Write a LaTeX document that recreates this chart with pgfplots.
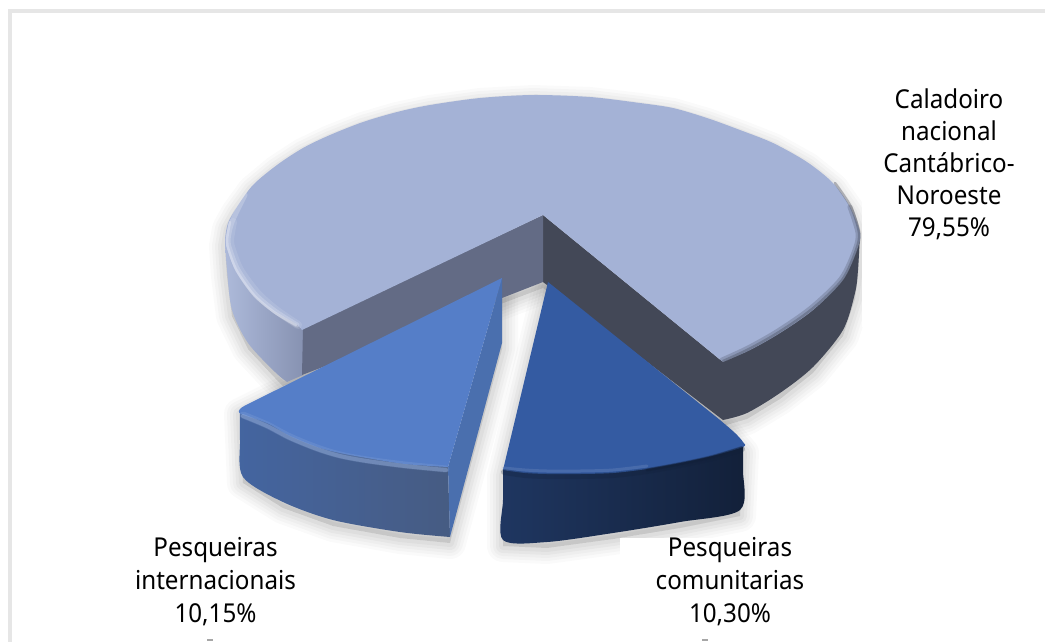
\documentclass[border=0pt]{standalone}
\usepackage{pgfplots}
\pgfplotsset{compat=1.18}
\usepackage{fontspec}
\setmainfont[FakeStretch=0.93]{Noto Sans}
\definecolor{bigtop}{HTML}{A4B2D6}
\definecolor{bigdark}{HTML}{434857}
\definecolor{bigwall}{HTML}{636B85}
\definecolor{bluetop}{HTML}{557EC8}
\definecolor{bluewall}{HTML}{4A6FAE}
\definecolor{navytop}{HTML}{345BA2}
\definecolor{frame}{HTML}{E6E6E6}
% outlines, in pixels of the picture
\def\bigoutline{(303,373)(283,380)(275,372)(248,343)(232,310)(227,270)(225,240)(228,223)(237,207)(253,185)(277,165)(303,148)(330,135)(363,122)(397,112)(430,105)(480,98)(533,95)(590,97)(640,103)(673,108)(707,118)(740,130)(773,143)(807,162)(833,183)(850,207)(860,233)(858,270)(855,293)(843,330)(813,367)(780,393)(747,413)(723,420)(543,282)}
\def\blueoutline{(240,408)(243,477)(283,502)(333,520)(400,532)(450,537)(502,343)(502,278)}
\def\navyoutline{(503,470)(503,540)(547,542)(613,533)(680,522)(740,510)(743,447)(720,420)(548,282)}
\newcommand{\shadowlayers}[1]{%
  \addplot[draw=black,fill=black,draw opacity=.02,fill opacity=.02,line width=32pt,line join=round,yshift=-6pt] coordinates {#1} --cycle;
  \addplot[draw=black,fill=black,draw opacity=.025,fill opacity=.02,line width=26pt,line join=round,yshift=-6pt] coordinates {#1} --cycle;
  \addplot[draw=black,fill=black,draw opacity=.025,fill opacity=.02,line width=20pt,line join=round,yshift=-6pt] coordinates {#1} --cycle;
  \addplot[draw=black,fill=black,draw opacity=.03,fill opacity=.02,line width=14pt,line join=round,yshift=-6pt] coordinates {#1} --cycle;
  \addplot[draw=black,fill=black,draw opacity=.03,fill opacity=.02,line width=8pt,line join=round,yshift=-6pt] coordinates {#1} --cycle;
}
\begin{document}
\begin{tikzpicture}
\begin{axis}[
  width=1045pt,height=641pt,scale only axis,
  xmin=0,xmax=1045,ymin=0,ymax=641,y dir=reverse,
  hide axis,clip=true]
\addplot[fill=white,draw=none] coordinates {(0,0)(1045,0)(1045,641)(0,641)} --cycle;
\addplot[draw=frame,line width=4pt] coordinates {(9.5,700)(9.5,11)(1100,11)};
% shadows
\shadowlayers{\bigoutline}
\shadowlayers{\blueoutline}
\shadowlayers{\navyoutline}
% white boxes that cut the shadow
\addplot[fill=white,draw=none] coordinates {(862,60)(1030,60)(1030,327)(862,327)} --cycle;
\addplot[fill=white,draw=none] coordinates {(620,538)(800,538)(800,625)(620,625)} --cycle;
% large slice: left rim
\addplot[left color=bigtop!90!white,right color=bigwall!45!bigtop,draw=none,smooth] coordinates {(225,240)(227,270)(232,310)(248,343)(275,372)(287,382)} -- (axis cs:303,375) -- (axis cs:303,328) --cycle;
% large slice: dark wall and rim
\addplot[fill=bigdark,draw=none,smooth] coordinates {(860,233)(858,270)(855,293)(843,330)(813,367)(780,393)(747,413)(723,420)} -- (axis cs:543,282) -- (axis cs:543,215) -- (axis cs:723,362) --cycle;
% large slice: left wall
\addplot[fill=bigwall,draw=none] coordinates {(543,215)(303,328)(302,375)(502,298)(543,282)} --cycle;
% large slice: top
\addplot[fill=bigtop,draw=none,smooth] coordinates {(302,330)(295,323)(272,310)(252,293)(235,270)(227,250)(225,240)(228,223)(237,207)(253,185)(277,165)(303,148)(330,135)(363,122)(397,112)(430,105)(480,98)(533,95)(590,97)(640,103)(673,108)(707,118)(740,130)(773,143)(807,162)(833,183)(850,207)(860,233)(857,250)(843,280)(813,310)(780,333)(750,350)(723,362)} -- (axis cs:543,215) --cycle;
% bevels of the large slice
\addplot[draw=bigtop!40!white,line width=8pt,opacity=.18,line cap=round,smooth] coordinates {(233,222)(230,240)(232,250)(240,270)(257,293)(276,310)(298,325)};
\addplot[draw=bigtop!30!white,line width=5pt,opacity=.3,line cap=round,smooth] coordinates {(245,195)(232,222)(228,240)(230,250)(238,270)(255,294)(275,311)(297,325)};
\addplot[draw=bigtop!30!white,line width=2.5pt,opacity=.45,line cap=round,smooth] coordinates {(230,222)(227,240)(229,251)(237,271)(254,295)(274,312)(296,325)};
\addplot[draw=bigdark,line width=5pt,opacity=.25,line cap=round,smooth] coordinates {(850,207)(858,233)(855,250)(841,279)(811,308)(778,331)(748,348)(722,360)};
\addplot[draw=bigdark,line width=2.5pt,opacity=.35,line cap=round,smooth] coordinates {(835,183)(851,207)(859,233)(856,250)(842,280)(812,309)(779,332)(749,349)(723,361)};
% blue slice
\addplot[left color=bluetop!80!black,right color=bluewall!50!bigdark,draw=none,smooth] coordinates {(240,410)(240,440)(243,477)(283,502)(333,520)(400,532)(450,537)} -- (axis cs:448,467) --cycle;
\addplot[fill=bluewall,draw=none] coordinates {(448,467)(450,537)(502,343)(502,278)} --cycle;
\addplot[fill=bluetop,draw=none,smooth] coordinates {(246,405)(240,409)(241,414)(267,423)(290,436)(317,447)(340,453)(367,458)(405,464)(448,467)} -- (axis cs:502,278) --cycle;
\addplot[draw=bluetop!60!white,line width=7pt,opacity=.2,line cap=round,smooth] coordinates {(243,415)(267,425)(290,437)(317,448)(340,455)(367,460)(405,465)(446,469)};
\addplot[draw=bluetop!60!white,line width=4pt,opacity=.4,line cap=round,smooth] coordinates {(243,416)(267,426)(290,438)(317,449)(340,456)(367,461)(405,466)(446,470)};
% navy slice
\addplot[left color=navytop!60!black,right color=navytop!35!black,draw=none,smooth] coordinates {(503,470)(503,500)(503,540)(547,542)(613,533)(680,522)(740,510)(743,470)(743,447)} -- (axis cs:547,473) --cycle;
\addplot[fill=navytop,draw=none,smooth] coordinates {(503,470)(525,473)(547,474)(580,474)(613,473)(647,469)(680,463)(712,456)(743,447)(743,442)(735,433)(720,420)} -- (axis cs:548,282) --cycle;
\addplot[draw=navytop!80!white,line width=3pt,opacity=.5,line cap=round,smooth] coordinates {(504,468)(525,470)(547,471)(580,471)(613,470)(647,466)};
\addplot[draw=navytop!35!black,line width=6pt,opacity=.25,line cap=round,smooth] coordinates {(504,472)(525,475)(547,476)(580,476)(613,475)(647,471)(680,465)(712,458)(742,449)};
\addplot[draw=navytop!35!black,line width=3pt,opacity=.5,line cap=round,smooth] coordinates {(647,470)(680,464)(712,457)(742,448)};
% small marks at the foot
\addplot[draw=gray!70,line width=1.2pt] coordinates {(207,640)(213,640)};
\addplot[draw=gray!70,line width=1.2pt] coordinates {(702,640)(708,640)};
% labels
\node[align=center,font=\fontsize{26}{32}\selectfont,text=black] at (axis cs:949,164) {Caladoiro\\nacional\\Cantábrico-\\Noroeste\\79,55\%};
\node[align=center,font=\fontsize{26}{33}\selectfont,text=black] at (axis cs:215.5,582) {Pesqueiras\\internacionais\\10,15\%};
\node[align=center,font=\fontsize{26}{33}\selectfont,text=black] at (axis cs:730,582) {Pesqueiras\\comunitarias\\10,30\%};
\end{axis}
\end{tikzpicture}
\end{document}
